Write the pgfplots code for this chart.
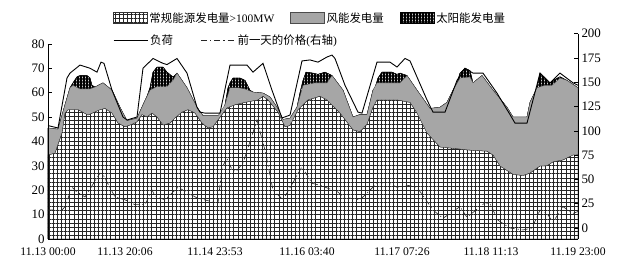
\documentclass[border=0pt]{standalone}
\usepackage{fontspec}
\setmainfont{Liberation Serif}
\newfontfamily\cjk{Noto Sans CJK SC}
\usepackage{pgfplots}
\usepackage{pgfplotstable}
\pgfplotsset{compat=1.18}
\usetikzlibrary{patterns.meta}

\pgfplotstableread{
x y
0 46.5
10 45.5
19 66
22 68
32 71.3
42 70
49 68.4
53 72.5
56 72
64 61
75 50
79 48.8
89 50
95 70
105 74
115 72
119 71.5
129 74
139 68
149 54
152 52
157 51.6
172 51.6
182 71.3
199 71.3
205 68.4
215 72
224 61
234 49.6
242 50.8
254 73
262 73.4
270 72.5
279 74.6
284 75.4
287 74
297 63
310 52
314 51.6
329 72.5
342 72.5
349 70.5
357 74
362 73
379 57
385 52
397 52
409 65
417 70
425 68
435 68
449 59.8
462 51
467 47.5
479 47.5
492 68
502 64
512 68
525 64
530 63
}\loadtab

\pgfplotstableread{
x y
0 45.5
10 45
17 55
22 62
25 64
29 66.5
32 67
39 67
42 66
44 63
47 62.3
55 64
64 61
72 54
79 48.5
89 49.5
95 55
99 58.5
102 62
105 68.4
109 70.5
115 70.5
119 68.4
125 66.4
129 68
139 62
149 54
155 50.5
170 50.5
175 52
177 55
180 62
182 64
185 66
192 66
197 65
202 61
205 60.2
215 59.8
222 58.2
229 54
235 49
242 49.5
249 54
252 60
255 65
258 68.4
265 68
270 67.5
277 68.4
284 67
295 61
305 50
312 51
319 51
325 61
327 62
330 66
334 68.4
344 68.4
349 67.5
352 68
359 67
369 61
382 53.5
392 54
399 56
405 61
409 64
412 68
417 70
422 69
425 64
434 67
445 61
459 54
465 50
479 50
482 56
489 62
492 68
497 66
502 64
505 65
512 66.5
519 65
530 62
}\totaltab

\pgfplotstableread{
x y
0 45.5
10 45
17 55
22 62
25 63
32 61.5
42 61.5
47 62.3
55 64
64 61
72 54
79 48.5
89 49.5
95 55
102 61
109 62.5
119 62.5
125 65
129 68
139 62
149 54
155 50.5
170 50.5
177 55
182 62
190 62
197 61.5
205 60.2
215 59.8
222 58.2
229 54
235 49
242 49.5
249 54
255 63
267 64
279 64
284 67
295 61
305 50
312 51
319 51
325 61
329 64
342 64
352 64
359 67
369 61
382 53.5
392 54
399 56
405 61
412 66
422 66.4
425 64
434 67
445 61
459 54
465 50
479 50
482 56
489 62
497 63
504 63
512 66
519 65
530 62
}\graytab

\pgfplotstableread{
x y
0 34.4
7 35.2
14 43.4
17 51.6
20 53
30 53
40 50.8
52 53
57 53.5
64 51.6
70 47.5
77 46
84 47
89 48
94 51
99 50
104 51.6
109 50
115 46.7
122 47.5
127 49.6
134 52
140 53
147 51.6
154 47.5
160 45.5
165 46
170 48.8
179 53.7
187 55
197 56
210 57
215 58.5
220 57
230 52
237 46
242 46.5
250 53
260 57
272 58.5
279 57
292 51.6
305 44.7
312 44
319 47
325 54
329 57
349 57
362 56
369 51.6
379 43.4
392 37.7
409 37
419 36.5
439 36
445 34.4
452 29.9
465 26.5
475 26
482 27
492 29.9
499 30
505 31.6
515 32.4
525 34.4
530 34.5
}\convtab

\pgfplotstableread{
x y
0 18.5
14 18.5
17 22
24 42
29 37
37 32
52 56.5
55 55
67 32
77 29
87 24
97 24
104 39
107 33
117 29
130 42
140 36
149 31
164 27
170 26
174 62
179 72
184 60
188 58
195 67
209 111
217 80
225 39
235 29
254 63
264 46
272 44
290 37
295 32
312 29
329 46
339 47
349 42
359 44
369 42
385 18.5
395 10
412 22
419 11
437 26
442 25
450 8
462 0
475 -2
484 0
492 18.5
499 15
505 6
515 22
525 15
530 17
}\pricetab

\tikzset{
  convstyle/.style={draw=black!80, line width=0.3bp, preaction={fill=white},
     pattern={Hatch[angle=0,distance=4.1bp,line width=0.55bp]}, pattern color=black!85},
  windstyle/.style={draw=black!70, line width=0.3bp, fill=black!35},
  solarstyle/.style={draw=black, line width=0.4bp, preaction={fill=black!20},
     pattern={Hatch[angle=0,distance=3bp,line width=1.15bp]}, pattern color=black},
  loadstyle/.style={black, line width=0.9bp},
  pricestyle/.style={black!85, line width=0.6bp, dash pattern=on 6bp off 3bp on 1.2bp off 3bp},
}
\pgfplotsset{
  legendbox/.style={legend image code/.code={\draw[##1] (0bp,-5.5bp) rectangle (34bp,5.5bp);}},
  legendline/.style={legend image code/.code={\draw[##1] (0bp,0bp) -- (34bp,0bp);}},
}

\begin{document}
\begin{tikzpicture}
\begin{axis}[
  scale only axis, width=530bp, height=205.4bp,
  xmin=0, xmax=530, ymin=0, ymax=84.2,
  axis x line*=bottom, axis y line*=left,
  y axis line style={draw=none},
  x axis line style={line width=0.8bp},
  xtick={0,77,167,259,354,443,530},
  xticklabels={11.13 00:00, 11.13 20:06, 11.14 23:53, 11.16 03:40, 11.17 07:26, 11.18 11:13, 11.19 23:00},
  ytick={0,10,...,80},
  tick align=inside,
  major tick length=4bp,
  tick style={black, line width=0.6bp},
  x tick label style={font=\fontsize{11.7}{13}\selectfont, yshift=-5bp},
  y tick label style={font=\fontsize{13}{14}\selectfont},
  /pgf/number format/assume math mode=true,
  legend columns=3,
  legend style={at={(0.1226,1.076)}, anchor=west, draw=none, fill=none, inner sep=0pt,
     font=\fontsize{11.5}{13}\selectfont,
     /tikz/every even column/.append style={column sep=14bp}},
]
\addlegendimage{legendbox, convstyle}
\addlegendimage{legendbox, windstyle}
\addlegendimage{legendbox, solarstyle}
\addplot[solarstyle, forget plot] table {\totaltab} \closedcycle;
\addplot[windstyle, forget plot] table {\graytab} \closedcycle;
\addplot[convstyle, forget plot] table {\convtab} \closedcycle;
\addplot[loadstyle, forget plot] table {\loadtab};
\draw[line width=0.8bp] (axis cs:0,0) -- (axis cs:0,80);
\legend{{\cjk 常规能源发电量}>100MW, {\cjk 风能发电量}, {\cjk 太阳能发电量}}
\end{axis}
\begin{axis}[
  scale only axis, width=530bp, height=205.4bp,
  xmin=0, xmax=530, ymin=-11.3, ymax=200,
  axis x line=none, axis y line*=right,
  y axis line style={line width=0.8bp},
  ytick={0,25,...,200},
  tick align=inside,
  major tick length=4bp,
  tick style={black, line width=0.6bp},
  y tick label style={font=\fontsize{13}{14}\selectfont},
  /pgf/number format/assume math mode=true,
  legend columns=2,
  legend style={at={(0.1226,0.969)}, anchor=west, draw=none, fill=none, inner sep=0pt,
     font=\fontsize{11.5}{13}\selectfont,
     /tikz/every even column/.append style={column sep=26bp}},
]
\addlegendimage{legendline, loadstyle}
\addlegendimage{legendline, pricestyle}
\addplot[pricestyle, forget plot] table {\pricetab};
\legend{{\cjk 负荷}, {\cjk 前一天的价格}({\cjk 右轴})}
\node[rotate=90, font=\fontsize{13}{14}\selectfont] at (rel axis cs:-0.0604,0.433) {{\cjk 发电量}/GW};
\node[rotate=90, font=\fontsize{13}{14}\selectfont] at (rel axis cs:1.066,0.467) {{\cjk 价格}/({\cjk 欧元}/WMh)};
\node[font=\fontsize{13.5}{14}\selectfont] at (rel axis cs:0.504,-0.125) {\cjk 日期及时刻};
\end{axis}
\pgfresetboundingbox
\path[use as bounding box] (-48bp,-29bp) rectangle (573bp,239bp);
\end{tikzpicture}
\end{document}
